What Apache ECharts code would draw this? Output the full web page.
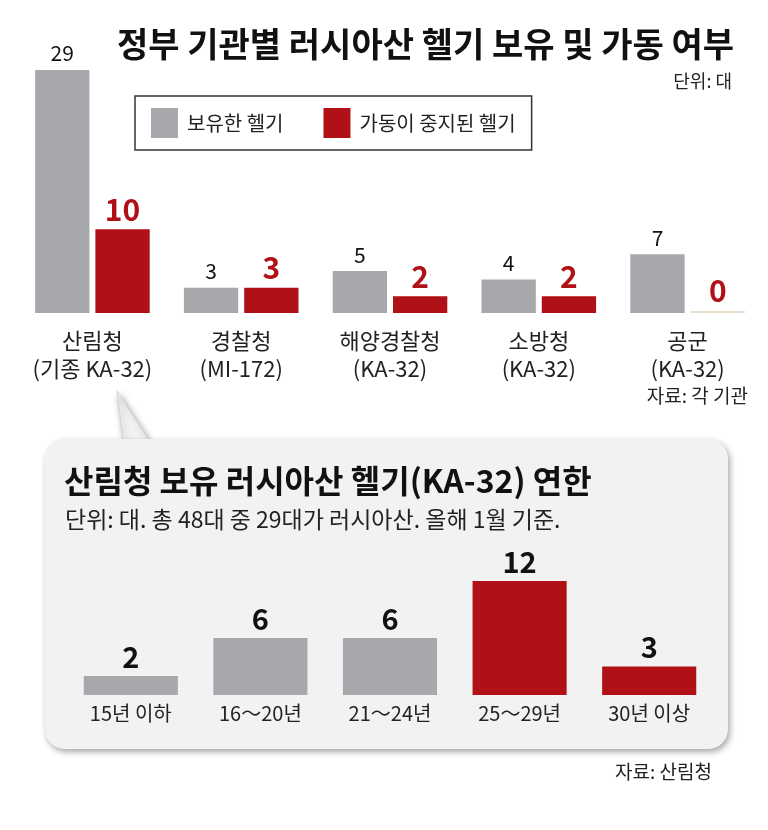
<!DOCTYPE html>
<html>
<head>
<meta charset="utf-8">
<script src="https://cdn.jsdelivr.net/npm/echarts@6/dist/echarts.min.js"></script>
<style>
  html, body { margin: 0; padding: 0; background: #fff; }
  #chart { width: 768px; height: 830px; }
</style>
</head>
<body>
<div id="chart"></div>
<script>
// 기관별 보유/가동중지 헬기
const agencies = ['산림청\n(기종 KA-32)', '경찰청\n(MI-172)', '해양경찰청\n(KA-32)', '소방청\n(KA-32)', '공군\n(KA-32)']
const ownedQty = [29, 3, 5, 4, 7]
const stoppedQty = [10, 3, 2, 2, 0]

// 산림청 KA-32 연한별 대수
const ageBands = ['15년 이하', '16～20년', '21～24년', '25～29년', '30년 이상']
const ageQty = [2, 6, 6, 12, 3]
const ageOld = [false, false, false, true, true]

const GREY = '#a7a8ab'
const RED = '#b01116'
const FONT = '"Noto Sans CJK KR", sans-serif'

const chart = echarts.init(document.getElementById('chart'), null, { renderer: 'canvas' })

const calloutShadow = {
  shadowBlur: 6,
  shadowOffsetX: 2,
  shadowOffsetY: 3,
  shadowColor: 'rgba(0,0,0,0.35)'
}

chart.setOption({
  backgroundColor: '#fff',
  animation: false,
  title: [
    { text: '정부 기관별 러시아산 헬기 보유 및 가동 여부', left: 117, top: 27, padding: 0,
      textStyle: { fontFamily: FONT, fontSize: 34, fontWeight: 'bold', color: '#111' } },
    { text: '단위: 대', right: 36, top: 72, padding: 0,
      textStyle: { fontFamily: FONT, fontSize: 18, fontWeight: 'normal', color: '#222' } },
    { text: '자료: 각 기관', right: 20, top: 386, padding: 0,
      textStyle: { fontFamily: FONT, fontSize: 19, fontWeight: 'normal', color: '#222' } },
    { text: '산림청 보유 러시아산 헬기(KA-32) 연한', left: 64, top: 465, padding: 0,
      textStyle: { fontFamily: FONT, fontSize: 32, fontWeight: 'bold', color: '#111' } },
    { text: '단위: 대. 총 48대 중 29대가 러시아산. 올해 1월 기준.', left: 65, top: 508, padding: 0,
      textStyle: { fontFamily: FONT, fontSize: 23, fontWeight: 'normal', color: '#222' } },
    { text: '자료: 산림청', right: 56, top: 762, padding: 0,
      textStyle: { fontFamily: FONT, fontSize: 19, fontWeight: 'normal', color: '#222' } }
  ],
  graphic: [
    {
      type: 'polygon',
      z: -11,
      shape: { points: [[121, 470], [123, 439], [117, 391], [148, 439], [165, 470]] },
      style: Object.assign({ fill: '#f2f2f2', stroke: '#d6d6d6', lineWidth: 1 }, calloutShadow)
    },
    {
      type: 'rect',
      z: -10,
      shape: { x: 45, y: 439, width: 683, height: 310, r: 20 },
      style: Object.assign({ fill: '#f2f2f2' }, calloutShadow)
    }
  ],
  legend: {
    data: ['보유한 헬기', '가동이 중지된 헬기'],
    left: 135,
    top: 96,
    padding: [12, 16, 12, 16],
    itemWidth: 27,
    itemHeight: 30,
    itemGap: 40,
    icon: 'rect',
    borderColor: '#333',
    borderWidth: 1.5,
    selectedMode: false,
    textStyle: { fontFamily: FONT, fontSize: 20, color: '#222', padding: [0, 0, 0, 4] }
  },
  grid: [
    { left: 18, width: 744, top: 70, height: 243 },
    { left: 66, width: 648, top: 581, height: 114 }
  ],
  xAxis: [
    {
      gridIndex: 0, type: 'category', data: agencies,
      axisLine: { show: false }, axisTick: { show: false },
      axisLabel: { interval: 0, hideOverlap: false, margin: 14, fontFamily: FONT, fontSize: 22, lineHeight: 28, color: '#222' }
    },
    {
      gridIndex: 1, type: 'category', data: ageBands,
      axisLine: { show: false }, axisTick: { show: false },
      axisLabel: { interval: 0, hideOverlap: false, margin: 8, fontFamily: FONT, fontSize: 20, color: '#222' }
    }
  ],
  yAxis: [
    { gridIndex: 0, type: 'value', min: 0, max: 29, show: false, splitLine: { show: false } },
    { gridIndex: 1, type: 'value', min: 0, max: 12, show: false, splitLine: { show: false } }
  ],
  series: [
    {
      name: '보유한 헬기', type: 'bar', xAxisIndex: 0, yAxisIndex: 0,
      data: ownedQty,
      barWidth: '36.5%', barGap: '11%',
      itemStyle: { color: GREY },
      label: { show: true, position: 'top', distance: 6, fontFamily: FONT, fontSize: 21, color: '#111' }
    },
    {
      name: '가동이 중지된 헬기', type: 'bar', xAxisIndex: 0, yAxisIndex: 0,
      data: stoppedQty.map((v) => (v === 0 ? { value: v, itemStyle: { color: '#eadfce' } } : v)),
      barWidth: '36.5%', barGap: '11%', barMinHeight: 2,
      itemStyle: { color: RED },
      label: { show: true, position: 'top', distance: 5, fontFamily: FONT, fontSize: 30, fontWeight: 'bold', color: RED }
    },
    {
      name: '연한', type: 'bar', xAxisIndex: 1, yAxisIndex: 1,
      data: ageQty.map((v, i) => ({ value: v, itemStyle: { color: ageOld[i] ? RED : GREY } })),
      barWidth: '72.6%',
      label: { show: true, position: 'top', distance: 5, fontFamily: FONT, fontSize: 29, fontWeight: 'bold', color: '#111' }
    }
  ]
})
</script>
</body>
</html>
